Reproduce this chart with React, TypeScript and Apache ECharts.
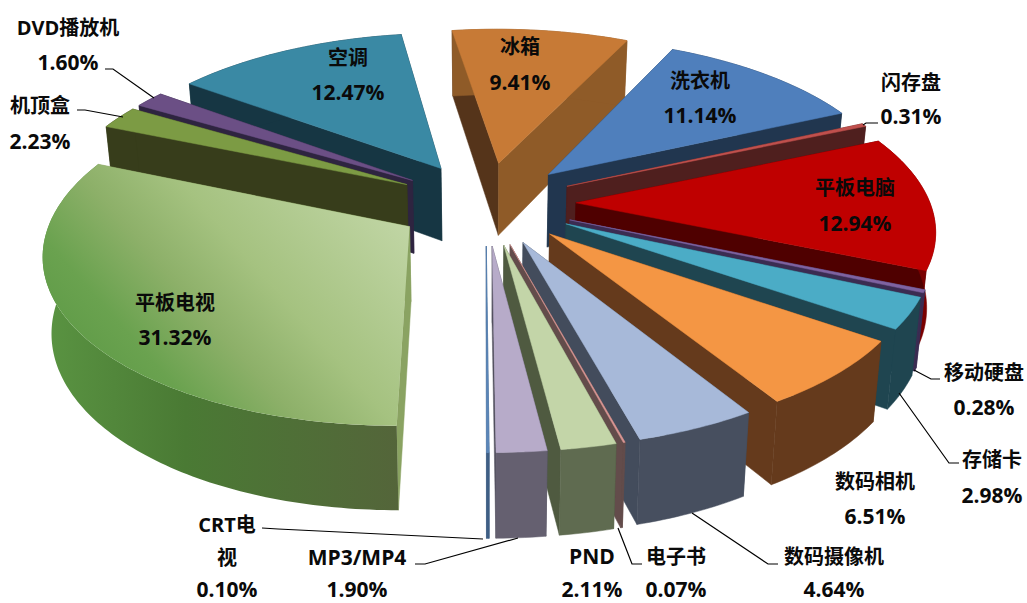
import React, { useEffect, useRef } from "react";
import * as echarts from "echarts";

const categories = ["冰箱","洗衣机","闪存盘","平板电脑","移动硬盘","存储卡","数码相机","数码摄像机","电子书","PND","MP3/MP4","CRT电视","平板电视","机顶盒","DVD播放机","空调"];
const values = [9.41,11.14,0.31,12.94,0.28,2.98,6.51,4.64,0.07,2.11,1.90,0.10,31.32,2.23,1.60,12.47];

// top, wall at start angle, wall at end angle, outer wall
const palette: any[] = [
  ["#C77A36","#55341A","#8F5B28","#8F5B28"],
  ["#4F7FBC","#21364F","#21364F","#21364F"],
  ["#C0504D","#4F1F1E","#4F1F1E","#4F1F1E"],
  ["#BF0000","#4F0000","#4F0000","#7A0000"],
  ["#7F63A1","#3B2C52","#3B2C52","#3B2C52"],
  ["#4BACC6","#1F4550","#1F4550","#1F4550"],
  ["#F49644","#653A1C","#653A1C","#653A1C"],
  ["#A7B9D9","#434C5C","#434C5C","#474F5F"],
  ["#D99694","#634C4B","#634C4B","#634C4B"],
  ["#C3D5A8","#4F5A40","#4F5A40","#5F6B50"],
  ["#B7ABC9","#52505E","#52505E","#656070"],
  ["#5B86B8","#3F5F85","#3F5F85","#3F5F85"],
  ["grad","#8AA362","#8AA362","gradWall"],
  ["#7C9B44","#373D1B","#373D1B","#373D1B"],
  ["#6B4F85","#2E2440","#2E2440","#2E2440"],
  ["#3A89A4","#163643","#163643","#163643"],
];

const GEO = { cx: 486, cy: 203, R: 354, e: 90, D: 2490, k: 0.462, h: 74, hp: 0.75, bx: 0.98, startDeg: -8.6 };

// centre x / y of every line
const labelLayout: any[] = [
  { x: 520, ys: [46, 82] },
  { x: 700, ys: [80, 115] },
  { x: 911, ys: [82, 116] },
  { x: 855, ys: [187, 223] },
  { x: 984, ys: [372, 407] },
  { x: 992, ys: [459, 495] },
  { x: 875, ys: [481, 516] },
  { x: 834, ys: [556, 588.5] },
  { x: 676, ys: [556, 588.5] },
  { x: 592, ys: [556, 588.5] },
  { x: 357, ys: [557, 588.5] },
  { x: 227, ys: [524, 557, 588.5], wrap: 4 },
  { x: 175, ys: [302, 337] },
  { x: 40, ys: [105, 141] },
  { x: 68, ys: [27, 62] },
  { x: 348, ys: [57, 92] },
];

const leaderLines = [
  [[105,69],[113,69],[154,98]],
  [[77,110],[85,110],[123,117]],
  [[863,125],[866,123],[878,123]],
  [[914,370],[931,379],[940,379]],
  [[899,393],[949,463],[959,463]],
  [[692,513],[768,564],[778,564]],
  [[618,528],[632,564],[642,564]],
  [[518,538],[425,564],[415,564]],
  [[262,528],[278,529],[483,539]],
];

const total = values.reduce((a, b) => a + b, 0);
const rad = (d: number) => (d * Math.PI) / 180;

function sliceAngles(i: number) {
  const before = values.slice(0, i).reduce((a, b) => a + b, 0);
  const a0 = GEO.startDeg + (before / total) * 360;
  return [a0, a0 + (values[i] / total) * 360];
}

function project(X: number, Y: number, bottom: boolean) {
  const s = GEO.D / (GEO.D + Y);
  return [
    GEO.cx + X * s * (bottom ? GEO.bx : 1),
    GEO.cy - Y * GEO.k * s + (bottom ? GEO.h * Math.pow(s, GEO.hp) : 0),
  ];
}

function fillOf(c: string) {
  if (c === "grad") {
    return new echarts.graphic.LinearGradient(405, 225, 143, 456, [
      { offset: 0, color: "#C0D5A4" },
      { offset: 0.4, color: "#A5C280" },
      { offset: 0.6, color: "#8DB069" },
      { offset: 0.8, color: "#6AA24F" },
      { offset: 1, color: "#5C9945" },
    ], true);
  }
  if (c === "gradWall") {
    return new echarts.graphic.LinearGradient(0, 0, 1, 0, [
      { offset: 0, color: "#5A9442" },
      { offset: 0.4, color: "#4A7A34" },
      { offset: 1, color: "#54653A" },
    ]);
  }
  return c;
}

function poly(points: number[][], c: string) {
  const fill = fillOf(c);
  return {
    type: "polygon",
    shape: { points },
    style: { fill, stroke: typeof fill === "string" ? fill : "none", lineWidth: 0.5 },
  };
}

function renderSlice(_params: any, api: any) {
  const i = api.value(1);
  const [a0, a1] = sliceAngles(i);
  const mid = rad((a0 + a1) / 2);
  const ox = GEO.e * Math.sin(mid);
  const oy = GEO.e * Math.cos(mid);
  const arc: number[][] = [];
  const steps = Math.max(2, Math.ceil(a1 - a0));
  for (let t = 0; t <= steps; t++) {
    const a = rad(a0 + ((a1 - a0) * t) / steps);
    arc.push([ox + GEO.R * Math.sin(a), oy + GEO.R * Math.cos(a)]);
  }
  const top = arc.map((p) => project(p[0], p[1], false));
  const bot = arc.map((p) => project(p[0], p[1], true));
  const apexT = project(ox, oy, false);
  const apexB = project(ox, oy, true);
  const [cTop, cStart, cEnd, cOuter] = palette[i];
  const wallStart = poly([apexT, top[0], bot[0], apexB], cStart);
  const wallEnd = poly([apexT, top[top.length - 1], bot[bot.length - 1], apexB], cEnd);
  const walls = top[0][1] < top[top.length - 1][1] ? [wallStart, wallEnd] : [wallEnd, wallStart];
  const outer = poly([...top, ...bot.slice().reverse()], cOuter);
  const face = poly([apexT, ...top], cTop);
  return { type: "group", children: [...walls, outer, face] };
}

function depthKey(i: number) {
  const [a0, a1] = sliceAngles(i);
  return Math.cos(rad((a0 + a1) / 2));
}

export default function App() {
  const ref = useRef<HTMLDivElement>(null);
  useEffect(() => {
    const chart = echarts.init(ref.current!, null, { renderer: "svg" });
    const order = values.map((_, i) => i).sort((a, b) => depthKey(b) - depthKey(a));
    const texts: any[] = [];
    categories.forEach((name, i) => {
      const l = labelLayout[i];
      const lines = l.wrap ? [name.slice(0, l.wrap), name.slice(l.wrap)] : [name];
      const all = [...lines, values[i].toFixed(2) + "%"];
      all.forEach((t, j) => {
        const latinOnly = /^[\x00-\x7f]+$/.test(t);
        texts.push({
          type: "text",
          z: 100,
          style: {
            x: l.x,
            y: l.ys[j],
            text: t,
            textAlign: "center",
            textVerticalAlign: "middle",
            fill: "#0a0a0a",
            fontSize: latinOnly ? 21 : 20,
            fontWeight: "bold",
            fontFamily: '"Open Sans","Noto Sans CJK SC",sans-serif',
          },
        });
      });
    });
    const lines = leaderLines.map((pts) => ({
      type: "polyline",
      z: 99,
      shape: { points: pts },
      style: { stroke: "#000", lineWidth: 1.2, fill: "none" },
    }));
    chart.setOption({
      animation: false,
      backgroundColor: "#fff",
      series: [
        {
          type: "custom",
          coordinateSystem: "none",
          silent: true,
          clip: false,
          renderItem: renderSlice,
          data: order.map((i) => ({ name: categories[i], value: [values[i], i] })),
        },
      ],
      graphic: { elements: [...lines, ...texts] },
    });
    return () => chart.dispose();
  }, []);
  return <div ref={ref} style={{ position: "fixed", left: 0, top: 0, width: 1027, height: 603 }} />;
}
